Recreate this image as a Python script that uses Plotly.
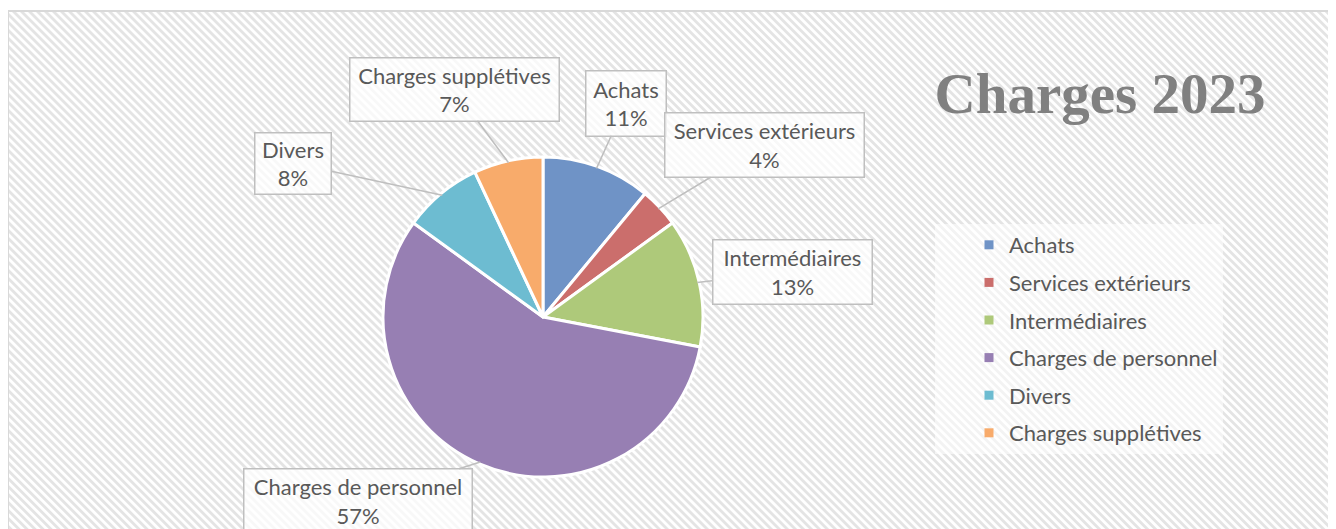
import base64
import math
import plotly.graph_objects as go

W, H = 1336, 529
# the page puts the figure 8px in from the window corner; positions below are window pixels
OFF = 8

categories = ["Achats", "Services extérieurs", "Intermédiaires",
              "Charges de personnel", "Divers", "Charges supplétives"]
values = [11, 4, 13, 57, 8, 7]
colors = ["#6F93C6", "#CB6E6C", "#AEC97A", "#977FB3", "#6DBCD1", "#F8AB6B"]

title_text = "Charges 2023"

# pie geometry
cx, cy, r = 543 - OFF, 317 - OFF, 160
# callout boxes: centre x, centre y, width, height
boxes = [
    (626, 103, 82, 67),
    (764, 145, 201, 66),
    (792, 272, 161, 66),
    (358, 501, 230, 66),
    (293, 163, 78, 63),
    (454, 89, 211, 65),
]

FONT = "Lato"
TXT = "#595959"


def px(x):
    return (x - OFF) / W


def py(y):
    return 1 - (y - OFF) / H


svg = f'''<svg xmlns="http://www.w3.org/2000/svg" width="{W}" height="{H}" viewBox="0 0 {W} {H}">
<defs><pattern id="h" width="5.66" height="5.66" patternUnits="userSpaceOnUse" patternTransform="rotate(-45)">
<rect width="2.8" height="5.66" fill="#e4e4e4"/></pattern></defs>
<rect width="{W}" height="{H}" fill="#ffffff"/>
<rect x="0" y="3" width="{W + 10}" height="{H}" fill="url(#h)" stroke="#d9d9d9" stroke-width="2"/>
</svg>'''
bg = "data:image/svg+xml;base64," + base64.b64encode(svg.encode()).decode()

fig = go.Figure()
fig.add_trace(go.Pie(
    labels=categories, values=values, sort=False, direction="clockwise", rotation=0,
    marker=dict(colors=colors, line=dict(color="white", width=3)),
    textinfo="none", showlegend=False, hoverinfo="label+percent",
    domain=dict(x=[(cx - r) / W, (cx + r) / W], y=[1 - (cy + r) / H, 1 - (cy - r) / H]),
))

# legend entries
for name, col in zip(categories, colors):
    fig.add_trace(go.Scatter(x=[None], y=[None], mode="markers", name=name, legendgroup=name,
                             marker=dict(symbol="square", size=9, color=col)))

total = sum(values)
cum = 0
for v, name, (bx, by, bw, bh) in zip(values, categories, boxes):
    mid = (cum + v / 2) / total * 2 * math.pi
    cum += v
    tx = cx + (r - 2) * math.sin(mid)
    ty = cy - (r - 2) * math.cos(mid)
    fig.add_annotation(
        x=tx / W, y=1 - ty / H, xref="paper", yref="paper",
        ax=(bx - OFF) - tx, ay=(by - OFF) - ty, axref="pixel", ayref="pixel",
        text=f"{name}<br>{round(v / total * 100)}%",
        showarrow=True, arrowhead=0, arrowwidth=1.5, arrowcolor="#BFBFBF", standoff=0,
        width=bw - 3, height=bh - 3, borderpad=0,
        bgcolor="rgba(255,255,255,0.75)", bordercolor="#BFBFBF", borderwidth=1.5,
        font=dict(family=FONT, size=22, color=TXT),
    )

fig.update_layout(
    width=W, height=H,
    margin=dict(l=0, r=0, t=0, b=0),
    paper_bgcolor="white", plot_bgcolor="rgba(0,0,0,0)",
    xaxis=dict(visible=False), yaxis=dict(visible=False),
    title=dict(text=f"<b>{title_text}</b>", x=px(1100), y=py(93), xanchor="center", yanchor="middle",
               font=dict(family="Liberation Serif", size=57, color="#808080")),
    legend=dict(x=px(935), y=py(224), xanchor="left", yanchor="top", indentation=34,
                entrywidth=310, bgcolor="rgba(255,255,255,0.55)", tracegroupgap=6,
                font=dict(family=FONT, size=22, color=TXT)),
    images=[dict(source=bg, xref="paper", yref="paper", x=0, y=1, sizex=1, sizey=1,
                 xanchor="left", yanchor="top", sizing="stretch", layer="below")],
)

fig.write_html("out.html")
